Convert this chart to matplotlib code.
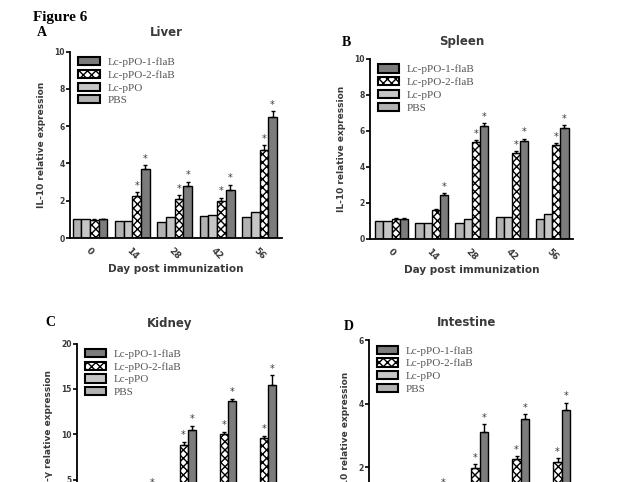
import numpy as np
import matplotlib.pyplot as plt
from matplotlib.patches import Patch

days = ['0', '14', '28', '42', '56']
groups = ['Lc-pPO-1-flaB', 'Lc-pPO-2-flaB', 'Lc-pPO', 'PBS']

# panel A - liver (IL-10)
pbs_A = [1.0, 0.9, 0.88, 1.2, 1.12]
ppo_A = [1.0, 0.9, 1.1, 1.22, 1.4]
flab2_A = [0.98, 2.27, 2.09, 1.96, 4.73]
flab1_A = [1.0, 3.7, 2.8, 2.6, 6.5]
err2_A = [0.04, 0.2, 0.2, 0.2, 0.25]
err1_A = [0.04, 0.2, 0.22, 0.25, 0.3]

# panel B - spleen (IL-10)
pbs_B = [1.0, 0.9, 0.9, 1.22, 1.1]
ppo_B = [1.0, 0.9, 1.1, 1.22, 1.37]
flab2_B = [1.1, 1.6, 5.38, 4.77, 5.23]
flab1_B = [1.1, 2.45, 6.3, 5.47, 6.16]
err2_B = [0.04, 0.08, 0.12, 0.1, 0.1]
err1_B = [0.04, 0.1, 0.15, 0.1, 0.15]

# panel C - kidney (IFN-gamma)
pbs_C = [1.0, 1.0, 1.1, 1.2, 1.1]
ppo_C = [1.0, 1.1, 1.2, 1.3, 1.4]
flab2_C = [1.0, 2.0, 8.8, 10.0, 9.55]
flab1_C = [1.0, 3.6, 10.5, 13.7, 15.4]
err2_C = [0.1, 0.2, 0.4, 0.3, 0.3]
err1_C = [0.1, 0.3, 0.45, 0.2, 1.1]

# panel D - intestine (IL-10)
pbs_D = [1.0, 0.9, 1.0, 1.1, 1.0]
ppo_D = [1.0, 1.0, 1.1, 1.1, 1.2]
flab2_D = [1.0, 1.1, 1.96, 2.24, 2.15]
flab1_D = [1.0, 1.2, 3.11, 3.5, 3.8]
err2_D = [0.04, 0.08, 0.12, 0.1, 0.12]
err1_D = [0.04, 0.1, 0.23, 0.17, 0.22]

# which bars get an asterisk (flaB-2, flaB-1) per day
star2 = [False, True, True, True, True]
star1 = [False, True, True, True, True]
star2_B = [False, False, True, True, True]

c_dark = '#7c7c7c'
c_pbs = '#b2b2b2'
c_ppo = '#c6c6c6'
txt = '#3a3a3a'

plt.rcParams['hatch.linewidth'] = 1.0

fig = plt.figure(figsize=(6.18, 4.82), dpi=100)
fig.text(0.053, 0.978, 'Figure 6', fontsize=11, fontweight='bold',
         family='Liberation Serif', va='top')


def panel(rect, letter, letter_xy, title, title_xy, ylabel, data, ymax, yticks,
          xlim, s2, s1, show_x=True):
    pbs, ppo, f2, f1, e2, e1 = data
    ax = fig.add_axes(rect)
    x = np.arange(len(days))
    w = 0.205
    ax.bar(x - 1.5 * w, pbs, w, color=c_pbs, edgecolor='black', lw=1)
    ax.bar(x - 0.5 * w, ppo, w, color=c_ppo, edgecolor='black', lw=1)
    ax.bar(x + 0.5 * w, f2, w, color='white', edgecolor='black', lw=1,
           hatch='xxxx', yerr=[np.zeros(5), e2], capsize=1.5,
           error_kw=dict(lw=1, ecolor='black'))
    ax.bar(x + 1.5 * w, f1, w, color=c_dark, edgecolor='black', lw=1,
           yerr=[np.zeros(5), e1], capsize=1.5,
           error_kw=dict(lw=1, ecolor='black'))
    for i in range(len(days)):
        if s2[i]:
            ax.annotate('*', (x[i] + 0.5 * w, f2[i] + e2[i]), xytext=(0, 1),
                        textcoords='offset points', ha='center', va='bottom',
                        fontsize=7, color=txt)
        if s1[i]:
            ax.annotate('*', (x[i] + 1.5 * w, f1[i] + e1[i]), xytext=(0, 1),
                        textcoords='offset points', ha='center', va='bottom',
                        fontsize=7, color=txt)
    ax.set_ylim(0, ymax)
    ax.set_xlim(*xlim)
    ax.set_yticks(yticks)
    ax.set_yticklabels([str(t) for t in yticks], fontsize=5.5,
                       fontweight='bold', color=txt)
    ax.set_xticks(x)
    ax.set_xticklabels(days, rotation=-45, fontsize=6.5, fontweight='bold',
                       color=txt, ha='center')
    for s in ['top', 'right']:
        ax.spines[s].set_visible(False)
    for s in ['left', 'bottom']:
        ax.spines[s].set_linewidth(1.3)
    ax.tick_params(axis='y', length=3, width=1.2, pad=1)
    ax.tick_params(axis='x', length=0, pad=6)
    ax.set_ylabel(ylabel, fontsize=6.5, fontweight='bold', color=txt,
                  labelpad=6)
    if show_x:
        ax.set_xlabel('Day post immunization', fontsize=7.5, fontweight='bold',
                      color=txt, labelpad=2)
    handles = [Patch(facecolor=c_dark, edgecolor='black', lw=1.5),
               Patch(facecolor='white', edgecolor='black', hatch='xxxx', lw=1.5),
               Patch(facecolor=c_ppo, edgecolor='black', lw=1.5),
               Patch(facecolor=c_pbs, edgecolor='black', lw=1.5)]
    leg = ax.legend(handles, groups, loc='upper left', bbox_to_anchor=(0.04, 0.97),
                    frameon=False, prop={'family': 'Liberation Serif', 'size': 8},
                    handlelength=1.9, handleheight=0.75, labelspacing=0.25,
                    handletextpad=0.7, borderpad=0, borderaxespad=0)
    for t in leg.get_texts():
        t.set_color('#555555')
    fig.text(letter_xy[0] / 618, 1 - letter_xy[1] / 482, letter, fontsize=10,
             fontweight='bold', family='Liberation Serif', ha='center',
             va='center')
    fig.text(title_xy[0] / 618, 1 - title_xy[1] / 482, title, fontsize=8.5,
             fontweight='bold', color=txt, ha='center', va='center')
    return ax


panel([70 / 618, 1 - 238 / 482, 212 / 618, 186.4 / 482], 'A', (42, 33), 'Liver',
      (166, 33), 'IL-10 relative expression',
      (pbs_A, ppo_A, flab2_A, flab1_A, err2_A, err1_A), 10, [0, 2, 4, 6, 8, 10],
      (-0.47, 4.53), star2, star1)

panel([370 / 618, 1 - 239 / 482, 203 / 618, 180 / 482], 'B', (346, 43), 'Spleen',
      (462, 42), 'IL-10 relative expression',
      (pbs_B, ppo_B, flab2_B, flab1_B, err2_B, err1_B), 10, [0, 2, 4, 6, 8, 10],
      (-0.54, 4.52), star2_B, star1)

panel([77 / 618, 1 - 525 / 482, 205 / 618, 181.5 / 482], 'C', (50, 322), 'Kidney',
      (170, 324), 'IFN-γ relative expression',
      (pbs_C, ppo_C, flab2_C, flab1_C, err2_C, err1_C), 20, [0, 5, 10, 15, 20],
      (-0.56, 4.56), star2, star1)

panel([369 / 618, 1 - 530.5 / 482, 207 / 618, 190.5 / 482], 'D', (349, 327),
      'Intestine', (467, 322), 'IL-10 relative expression',
      (pbs_D, ppo_D, flab2_D, flab1_D, err2_D, err1_D), 6, [0, 2, 4, 6],
      (-0.49, 4.55), star2, star1)

fig.savefig('out.png', dpi=100)
